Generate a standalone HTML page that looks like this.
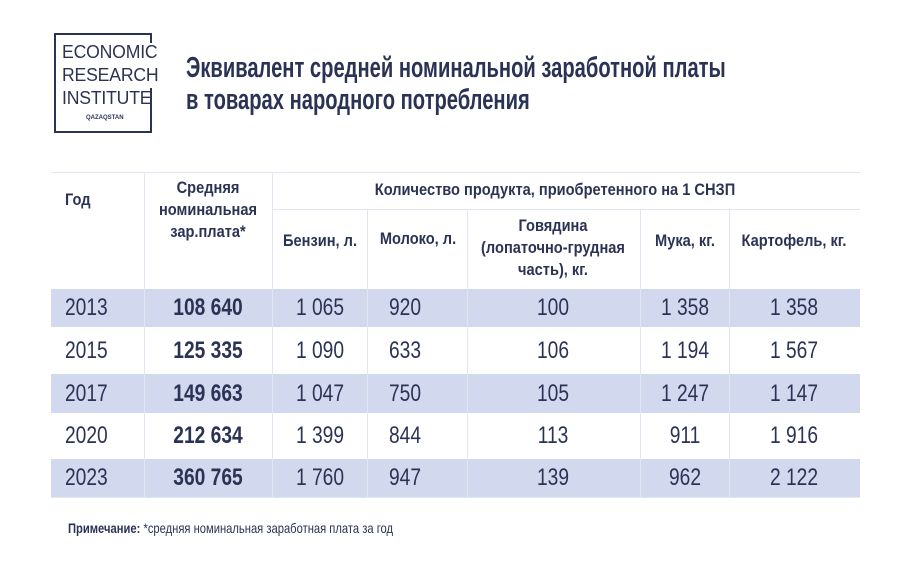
<!DOCTYPE html>
<html><head><meta charset="utf-8"><style>
body{margin:0;width:924px;height:584px;background:#fff;position:relative;overflow:hidden;font-family:"Liberation Sans",sans-serif;color:#2b3354}
div{position:absolute}
.t{white-space:nowrap}
.c{text-align:center;transform:translateX(-50%) scaleX(0.8)}
.ch{text-align:center;transform:translateX(-50%) scaleX(0.86)}
.h{font-weight:bold;font-size:17px;line-height:22px}
.d{font-size:24px;line-height:24px}
.vl{width:1px;background:#e2e6f0}
.hl{height:1px;background:#e2e6f0}
.nb{background:#2b3354}
</style></head><body>
<div class="nb" style="left:54px;top:33px;width:98px;height:2px"></div>
<div class="nb" style="left:54px;top:33px;width:2px;height:100px"></div>
<div class="nb" style="left:54px;top:131px;width:98px;height:2px"></div>
<div class="nb" style="left:150px;top:33px;width:2px;height:10px"></div>
<div class="nb" style="left:150px;top:88px;width:2px;height:45px"></div>
<div class="t" style="left:62px;top:41px;font-size:18px;line-height:23px;letter-spacing:-0.2px;transform:scaleX(0.98);transform-origin:left">ECONOMIC<br>RESEARCH<br>INSTITUTE</div>
<div class="t" style="left:86px;top:115px;font-size:6px;font-weight:bold">QAZAQSTAN</div>
<div class="t" style="left:186px;top:52px;font-size:29px;line-height:32px;font-weight:bold;transform:scaleX(0.695);transform-origin:left">Эквивалент средней номинальной заработной платы<br>в товарах народного потребления</div>

<div class="hl" style="left:51px;top:172px;width:809px"></div>
<div class="hl" style="left:272px;top:209px;width:588px"></div>
<div class="hl" style="left:51px;top:497px;width:809px"></div>
<div class="vl" style="left:144px;top:172px;height:326px"></div>
<div class="vl" style="left:272px;top:172px;height:326px"></div>
<div class="vl" style="left:367px;top:209px;height:289px"></div>
<div class="vl" style="left:467px;top:209px;height:289px"></div>
<div class="vl" style="left:640px;top:209px;height:289px"></div>
<div class="vl" style="left:729px;top:209px;height:289px"></div>

<div class="t h" style="left:65px;top:189px;transform:scaleX(0.86);transform-origin:left">Год</div>
<div class="t h ch" style="left:208px;top:177px">Средняя<br>номинальная<br>зар.плата*</div>
<div class="t h ch" style="left:555px;top:179px">Количество продукта, приобретенного на 1 СНЗП</div>
<div class="t h ch" style="left:320px;top:230px">Бензин, л.</div>
<div class="t h ch" style="left:418px;top:228px">Молоко, л.</div>
<div class="t h ch" style="left:553px;top:215px">Говядина<br>(лопаточно-грудная<br>часть), кг.</div>
<div class="t h ch" style="left:685px;top:230px">Мука, кг.</div>
<div class="t h ch" style="left:794px;top:230px">Картофель, кг.</div>

<div class="t" style="left:68px;top:520px;font-size:14px;transform:scaleX(0.8);transform-origin:left"><b>Примечание:</b> *средняя номинальная заработная плата за год</div>

<script>
const years=["2013","2015","2017","2020","2023"];
const wages=["108 640","125 335","149 663","212 634","360 765"];
const petrol=["1 065","1 090","1 047","1 399","1 760"];
const milk=["920","633","750","844","947"];
const beef=["100","106","105","113","139"];
const flour=["1 358","1 194","1 247","911","962"];
const potato=["1 358","1 567","1 147","1 916","2 122"];
const rowTops=[289,327,374,413,459,497];
const cols=[[wages,208,true],[petrol,320],[milk,405],[beef,553],[flour,685],[potato,794]];
const body=document.body;
years.forEach((y,i)=>{
  const t=rowTops[i],b=rowTops[i+1];
  if(i%2===0){
    const bg=document.createElement('div');
    
    
    bg.style.cssText=`left:51px;top:${t}px;width:809px;height:${b-t}px;background:#d2d8ee`;
    body.insertBefore(bg,body.firstChild);
  }
  const mid=(t+b)/2-12;
  const yd=document.createElement('div');
  
  
  yd.className='t d';yd.style.left='65px';yd.style.top=mid+'px';yd.textContent=y;
  yd.style.transform='scaleX(0.8)';yd.style.transformOrigin='left';
  body.appendChild(yd);
  cols.forEach(([arr,x,bold])=>{
    const d=document.createElement('div');
    
    
    d.className='t d c';d.style.left=x+'px';d.style.top=mid+'px';
    if(bold)d.style.fontWeight='bold';
    d.textContent=arr[i];body.appendChild(d);
  });
});
</script>
</body></html>
